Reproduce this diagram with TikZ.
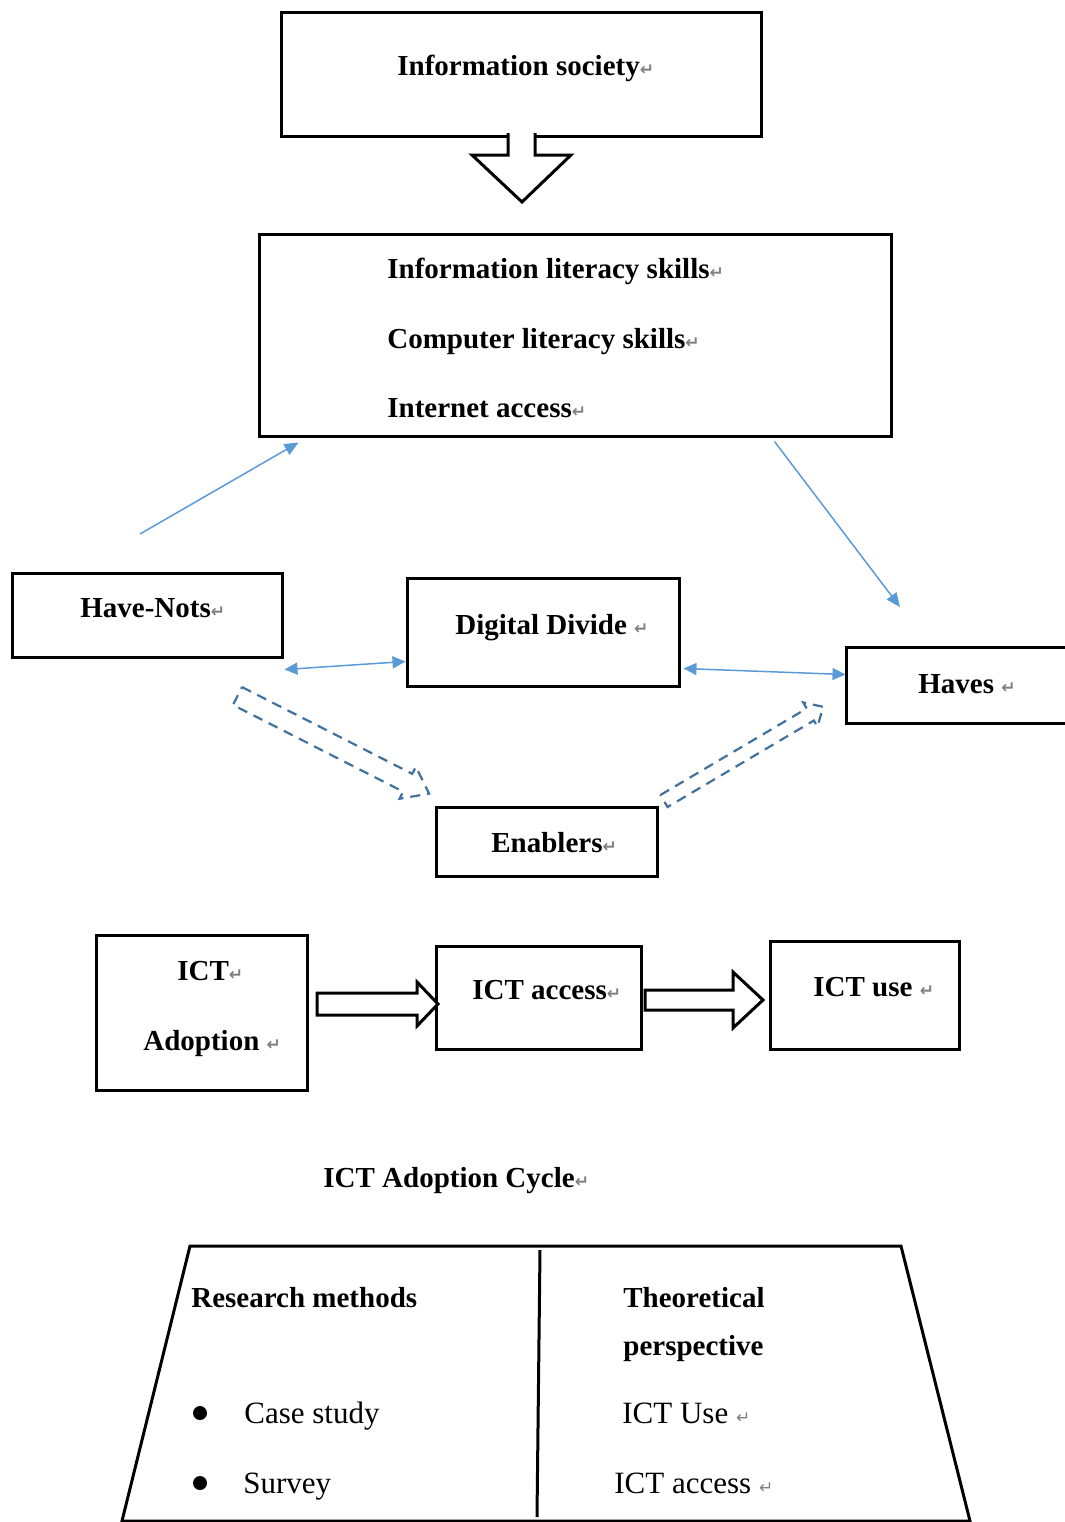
\documentclass[tikz,border=0pt]{standalone}
\usepackage{amsmath}
\usepackage{xcolor}
\usepackage{fontspec}
\setmainfont{Liberation Serif}
\newfontfamily\arrowsymfont{DejaVu Sans}
\usepackage{tikz}
\usetikzlibrary{arrows.meta,fit}

\definecolor{wordblue}{HTML}{5B9BD5}
\definecolor{dashblue}{HTML}{41719C}
\newcommand{\retmark}{{\color{gray}\arrowsymfont\fontsize{8.5}{8.5}\selectfont ↵}}

\begin{document}
\begin{tikzpicture}[x=0.5pt,y=-0.5pt,
  box/.style={draw, line width=1.5pt, inner sep=0pt},
  lbl/.style={anchor=west, inner sep=0pt, yshift=-2.5pt, font=\bfseries\fontsize{14.5}{17}\selectfont, text height=1.5ex, text depth=0.2ex},
  plaintext/.style={lbl, font=\fontsize{15.5}{18}\selectfont},
  bulletdot/.style={circle, fill, inner sep=0pt, minimum size=7pt},
  bluelink/.style={wordblue, line width=0.75pt, -{Triangle[length=7pt,width=6pt]}},
  twolink/.style={bluelink, {Triangle[length=6.5pt,width=6pt]}-{Triangle[length=6.5pt,width=6pt]}},
  hollow/.style={draw, line width=1.5pt, fill=white, line join=miter},
  dashedarrow/.style={dashblue, line width=1.1pt, dash pattern=on 5pt off 3.5pt}]
\useasboundingbox (0,0) rectangle (1065,1522);

% TOP BOXES
\node[box, fit={(281,12) (761,136)}] (society) {};
\node[lbl] (societytext) at (397,65) {Information society\retmark};

\node[box, fit={(259,234) (891,436)}] (skills) {};
\node[lbl] (infolit) at (387,268) {Information literacy skills\retmark};
\node[lbl] (complit) at (387,338) {Computer literacy skills\retmark};
\node[lbl] (netaccess) at (387,407) {Internet access\retmark};

\draw[hollow] (508,133) -- (508,155) -- (472,155) -- (522,202) -- (571,155) -- (535,155) -- (535,133);

% MIDDLE ROW
\node[box, fit={(12,573) (282,657)}] (havenots) {};
\node[lbl] (havenotstext) at (80,607) {Have-Nots\retmark};

\node[box, fit={(407,578) (679,686)}] (divide) {};
\node[lbl] (dividetext) at (455,624) {Digital Divide \retmark};

\node[box, fit={(846,647) (1080,723)}] (haves) {};
\node[lbl] (havestext) at (918,683) {Haves \retmark};

\node[box, fit={(436,807) (657,876)}] (enablers) {};
\node[lbl] (enablerstext) at (491,842) {Enablers\retmark};

\coordinate (nottail) at (140,534);
\coordinate (haveshead) at (900,607);
\draw[bluelink] (nottail) -- ([xshift=20.5pt,yshift=-2.5pt]skills.south west);
\draw[bluelink] ([xshift=-59pt,yshift=-2pt]skills.south east) -- (haveshead);
\draw[twolink] ([xshift=0.5pt,yshift=-5.5pt]havenots.south east) -- ([yshift=13pt]divide.south west);
\draw[twolink] ([xshift=1.5pt,yshift=9.5pt]divide.south east) -- ([xshift=0.5pt,yshift=-14.5pt]haves.north west);

\begin{scope}[shift={(237.5,696)}, rotate=-27] % DASHED ARROW TO ENABLERS
\draw[dashedarrow] (0,-10) -- (191,-10) -- (191,-18) -- (215,0) -- (191,18) -- (191,10) -- (0,10) -- cycle;
\end{scope}

\begin{scope}[shift={(664,801)}, rotate=30.6] % DASHED ARROW TO HAVES
\draw[dashedarrow] (0,-7) -- (170,-7) -- (170,-14) -- (185,0) -- (170,14) -- (170,7) -- (0,7) -- cycle;
\end{scope}

% ADOPTION CYCLE
\node[box, fit={(96,935) (307,1090)}] (adoption) {};
\node[lbl] (icttext) at (177,970) {ICT\retmark};
\node[lbl] (adoptiontext) at (143,1040) {Adoption \retmark};

\node[box, fit={(436,946) (641,1049)}] (access) {};
\node[lbl] (accesstext) at (472,989) {ICT access\retmark};

\node[box, fit={(770,941) (959,1049)}] (ictuse) {};
\node[lbl] (usetext) at (813,986) {ICT use \retmark};

\draw[hollow] (317,993) -- (417,993) -- (417,982) -- (438,1004) -- (417,1026) -- (417,1015) -- (317,1015) -- cycle;
\draw[hollow] (645,990) -- (733,990) -- (733,972) -- (763,1000) -- (733,1028) -- (733,1010) -- (645,1010) -- cycle;

\node[lbl] (cyclecaption) at (323,1177) {ICT Adoption Cycle\retmark};

% TRAPEZOID
\draw[line width=1.5pt, line join=miter] (190,1246) -- (901,1246) -- (970,1521) -- (122,1521) -- cycle;
\coordinate (divtop) at (540,1250);
\coordinate (divbot) at (537,1517);
\draw[line width=1.5pt] (divtop) -- (divbot);

\node[lbl] (methods) at (191,1297) {Research methods};
\node[bulletdot] (bulletone) at (200,1413) {};
\node[plaintext] (casestudy) at (244,1413) {Case study};
\node[bulletdot] (bullettwo) at (200,1483) {};
\node[plaintext] (survey) at (243,1483) {Survey};

\node[lbl] (theoretical) at (623,1297) {Theoretical};
\node[lbl] (perspective) at (623,1345) {perspective};
\node[plaintext] (ictusetext) at (622,1413) {ICT Use \retmark};
\node[plaintext] (ictaccesstext) at (614,1483) {ICT access \retmark};
\end{tikzpicture}
\end{document}
